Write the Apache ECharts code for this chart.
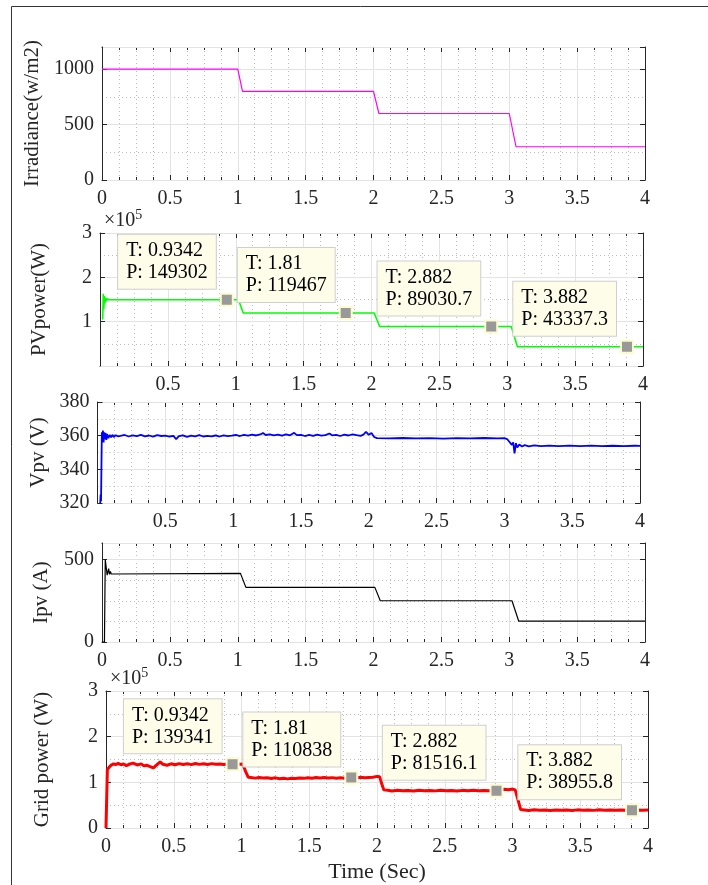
<!DOCTYPE html>
<html><head><meta charset="utf-8">
<script src="https://cdn.jsdelivr.net/npm/echarts@6/dist/echarts.min.js"></script>
<style>html,body{margin:0;padding:0;background:#fff}#c{width:708px;height:885px}</style>
</head><body><div id="c"></div>
<script>
// ---------- DATA (time in s) ----------
const irradiancePoints = [[0,1000],[1.0,1000],[1.035,800],[2.0,800],[2.04,600],[3.0,600],[3.05,300],[4.0,300]];

const pvPowerPoints = [[0.020,105000],[0.024,163000],[0.028,128000],[0.032,158000],[0.036,141000],[0.040,154000],
  [0.045,146000],[0.050,151500],[0.056,148000],[0.065,149800],[0.080,149302],[1.020,149302],[1.055,119467],
  [2.020,119467],[2.060,89031],[3.030,89031],[3.075,43337],[4.0,43337]];

const vpvPoints = [[0.020,320],[0.023,325],[0.026,321],[0.029,320],[0.032,362],[0.036,357],[0.040,363],[0.045,356],
  [0.050,362],[0.055,358],[0.060,361.5],[0.065,357.5],[0.070,361],[0.080,358.5],[0.090,360.5],[0.100,359],
  [0.110,360.5],[0.120,359.2],[0.135,360.3],[0.150,359.6],
  [0.17,359.9],[0.20,360.4],[0.23,359.5],[0.26,360.2],[0.29,359.7],[0.32,360.5],[0.35,359.6],[0.38,360.1],
  [0.41,359.4],[0.44,360.3],[0.47,359.8],[0.50,360.0],[0.53,359.5],[0.56,359.9],[0.58,357.9],[0.60,359.7],
  [0.63,360.2],[0.66,359.3],[0.69,360.0],[0.72,359.6],[0.75,360.3],[0.78,359.5],[0.81,359.9],[0.84,359.6],
  [0.87,360.1],[0.90,359.5],[0.93,360.2],[0.96,359.7],[0.99,360.0],[1.02,360.4],[1.05,359.8],[1.08,360.5],
  [1.11,360.0],[1.14,360.6],[1.17,360.1],[1.20,360.7],[1.22,361.6],[1.24,360.4],[1.27,360.8],[1.30,360.2],
  [1.33,360.6],[1.36,360.0],[1.39,360.7],[1.42,360.2],[1.45,361.7],[1.47,360.3],[1.50,360.5],[1.53,359.8],
  [1.56,360.4],[1.59,359.9],[1.62,360.6],[1.65,360.0],[1.68,360.3],[1.71,361.3],[1.73,360.2],[1.76,360.5],
  [1.79,359.8],[1.82,360.6],[1.85,360.1],[1.88,360.8],[1.91,360.3],[1.94,359.9],[1.96,360.6],[1.98,362.3],
  [2.00,360.5],[2.02,361.6],[2.04,359.2],
  [2.06,358.5],[2.15,358.4],[2.25,358.6],[2.35,358.4],[2.45,358.5],[2.55,358.3],[2.65,358.5],[2.75,358.4],
  [2.85,358.6],[2.95,358.4],[3.00,358.5],
  [3.02,358.0],[3.035,356.5],[3.045,357.5],[3.055,354.5],[3.065,356],[3.075,349.5],[3.085,355.5],[3.095,353],
  [3.11,354.8],[3.13,353.6],[3.15,354.4],[3.18,353.7],[3.22,354.2],[3.27,353.8],[3.33,354.1],[3.40,353.8],
  [3.48,354.1],[3.56,353.8],[3.64,354.1],[3.72,353.8],[3.80,354.0],[3.88,353.8],[3.96,354.0],[4.0,353.9]];

const ipvPoints = [[0,0],[0.018,0],[0.024,500],[0.032,500],[0.038,405],[0.042,395],[0.049,445],[0.055,410],
  [0.062,428],[0.068,412],[0.075,416],[1.02,416],[1.06,331],[2.01,331],[2.05,250],[3.02,250],[3.07,126],[4.0,126]];

const gridPowerPoints = [[0,0],[0.008,0],[0.010,128000],[0.015,131000],[0.025,134000],[0.04,138000],[0.055,140500],
  [0.07,139000],[0.09,141500],[0.11,138500],[0.13,140000],[0.15,136500],[0.17,139500],[0.20,142000],[0.23,138000],
  [0.26,140500],[0.28,136000],[0.30,137500],[0.33,134000],[0.35,131500],[0.37,137000],[0.40,145000],[0.42,139500],
  [0.45,137500],[0.48,140500],[0.51,138500],[0.54,141000],[0.57,139000],[0.60,140500],[0.63,138800],[0.66,141200],
  [0.69,139300],[0.72,140600],[0.75,138900],[0.78,141000],[0.81,139500],[0.84,140300],[0.87,139000],[0.90,140200],
  [0.93,139341],[0.96,140800],[0.99,139600],[1.01,140000],[1.03,124000],[1.05,111000],
  [1.07,110500],[1.10,109200],[1.13,110800],[1.16,109500],[1.19,110000],[1.22,108600],[1.25,109800],[1.28,107800],
  [1.31,108800],[1.34,107600],[1.37,109000],[1.40,108200],[1.43,109600],[1.46,108700],[1.49,110200],[1.52,109000],
  [1.55,110500],[1.58,109400],[1.61,110800],[1.64,109700],[1.67,110300],[1.70,108900],[1.73,110100],[1.76,109200],
  [1.79,110838],[1.82,110500],[1.85,109600],[1.88,110900],[1.91,110000],[1.94,110700],[1.97,111300],[2.00,113000],
  [2.02,112000],[2.035,97000],[2.05,83500],
  [2.08,82500],[2.11,81200],[2.15,82800],[2.19,81500],[2.23,82300],[2.27,81000],[2.31,82600],[2.35,81700],
  [2.39,82200],[2.43,81300],[2.47,82700],[2.51,81600],[2.55,82100],[2.59,81000],[2.63,82400],[2.67,81500],
  [2.71,82800],[2.75,81700],[2.79,82300],[2.83,81400],[2.87,81516],[2.91,83000],[2.94,84800],[2.97,84000],
  [3.00,85200],[3.02,83500],[3.04,62000],[3.06,40500],
  [3.09,39500],[3.12,38500],[3.16,39800],[3.20,38700],[3.24,39300],[3.28,38400],[3.32,39600],[3.36,38800],
  [3.40,39200],[3.44,38500],[3.48,39700],[3.52,38900],[3.56,39400],[3.60,38600],[3.64,39900],[3.68,39100],
  [3.72,39400],[3.76,38700],[3.80,39500],[3.84,38900],[3.88,38956],[3.92,39400],[3.96,38800],[4.0,39300]];

const pvTipTime = [0.9342, 1.81, 2.882, 3.882];
const pvTipPower = [149302, 119467, 89030.7, 43337.3];
const gridTipTime = [0.9342, 1.81, 2.882, 3.882];
const gridTipPower = [139341, 110838, 81516.1, 38955.8];

const xTickStep = 0.5;
// ---------- LAYOUT / STYLE ----------
const FONT = 'Liberation Serif';
const INK = '#262626';
const measureCtx = document.createElement('canvas').getContext('2d');
function textWidth(str, size) { measureCtx.font = size + 'px "' + FONT + '"'; return measureCtx.measureText(str).width; }

const panels = [
  {left:102, top:47, width:543, height:133, yMin:0, yMax:1200, yStep:500, yMinor:250, name:'Irradiance(w/m2)', gap:52,
   hideX0:false, hideY0:false, scale:1, color:'#ff00ff', lw:1.2, data:irradiancePoints},
  {left:100, top:233, width:543, height:133, yMin:0, yMax:300000, yStep:100000, yMinor:50000, name:'PVpower(W)', gap:50,
   hideX0:true, hideY0:true, scale:1e5, color:'#00ff00', lw:1.6, data:pvPowerPoints, tipT:pvTipTime, tipP:pvTipPower},
  {left:97.5, top:402, width:542.5, height:101, yMin:320, yMax:380, yStep:20, yMinor:10, name:'Vpv (V)', gap:48,
   hideX0:true, hideY0:false, scale:1, color:'#0000ff', lw:1.8, data:vpvPoints},
  {left:102, top:543, width:543, height:99, yMin:0, yMax:600, yStep:500, yMinor:125, name:'Ipv (A)', gap:50,
   hideX0:false, hideY0:false, scale:1, color:'#000000', lw:1.2, data:ipvPoints},
  {left:106, top:691, width:542, height:137, yMin:0, yMax:300000, yStep:100000, yMinor:50000, name:'Grid power (W)', gap:53,
   hideX0:false, hideY0:false, scale:1e5, color:'#ff0000', lw:3, data:gridPowerPoints, tipT:gridTipTime, tipP:gridTipPower,
   xName:'Time (Sec)'}
];

const TIP_FS = 20, TIP_PADX = 8, TIP_GAP = 4;
const grids = [], xAxes = [], yAxes = [], series = [];
panels.forEach((p, i) => {
  grids.push({left:p.left, top:p.top, width:p.width, height:p.height, containLabel:false});
  const lineStyle = {color: INK, width: 1};
  xAxes.push({
    type:'value', gridIndex:i, min:0, max:4, interval:xTickStep, position:'bottom',
    axisLine:{show:true, onZero:false, lineStyle},
    axisTick:{show:true, inside:true, length:5, lineStyle},
    minorTick:{show:true, splitNumber:4, length:3, lineStyle},
    axisLabel:{show:true, margin:9, fontFamily:FONT, fontSize:20, color:INK, showMinLabel:!p.hideX0,
               formatter: v => String(v)},
    splitLine:{show:true, lineStyle:{color:'#e3e3e3', width:1, type:'solid'}},
    minorSplitLine:{show:true, lineStyle:{color:'#bdbdbd', width:1, type:[1,3]}},
    name: p.xName || '', nameLocation:'middle', nameGap:33,
    nameTextStyle:{fontFamily:FONT, fontSize:22, color:INK}
  });
  xAxes.push({
    type:'value', gridIndex:i, min:0, max:4, interval:xTickStep, position:'top',
    axisLine:{show:true, onZero:false, lineStyle},
    axisTick:{show:true, inside:true, length:5, lineStyle},
    minorTick:{show:true, splitNumber:4, length:3, lineStyle},
    axisLabel:{show:false}, splitLine:{show:false}
  });
  yAxes.push({
    type:'value', gridIndex:i, min:p.yMin, max:p.yMax, interval:p.yMinor, position:'right', z:0,
    axisLine:{show:false}, axisTick:{show:false}, axisLabel:{show:false},
    splitLine:{show:true, lineStyle:{color:'#bdbdbd', width:1, type:[1,3]}}
  });
  yAxes.push({
    type:'value', gridIndex:i, min:p.yMin, max:p.yMax, interval:p.yStep, position:'left', z:1,
    axisLine:{show:true, onZero:false, lineStyle},
    axisTick:{show:true, inside:true, length:5, lineStyle},
    axisLabel:{show:true, margin:8, fontFamily:FONT, fontSize:20, color:INK,
               showMinLabel:!p.hideY0, showMaxLabel:(p.yMax - p.yMin) % p.yStep === 0,
               formatter: v => String(Math.round(v / p.scale * 1000) / 1000)},
    splitLine:{show:true, lineStyle:{color:'#e3e3e3', width:1, type:'solid'}},
    name:p.name, nameLocation:'middle', nameGap:p.gap,
    nameTextStyle:{fontFamily:FONT, fontSize:21, color:INK}
  });
  yAxes.push({
    type:'value', gridIndex:i, min:p.yMin, max:p.yMax, interval:p.yStep, position:'right', z:1,
    axisLine:{show:true, onZero:false, lineStyle},
    axisTick:{show:true, inside:true, length:5, lineStyle},
    axisLabel:{show:false}, splitLine:{show:false}
  });
  const s = {
    type:'line', xAxisIndex:2*i, yAxisIndex:3*i+1, data:p.data, showSymbol:false, symbol:'none',
    lineStyle:{color:p.color, width:p.lw}, itemStyle:{color:p.color}, animation:false, z:3
  };
  if (p.tipT) {
    s.markPoint = {
      symbol:'rect', symbolSize:12, animation:false,
      itemStyle:{color:'#999999', borderColor:'#fbfbd0', borderWidth:2},
      data: p.tipT.map((t, k) => {
        const l1 = 'T: ' + t, l2 = 'P: ' + p.tipP[k];
        const w = Math.max(textWidth(l1, TIP_FS), textWidth(l2, TIP_FS)) + 2 * TIP_PADX;
        return {
          coord:[t, p.tipP[k]],
          label:{show:true, position:[-(w + TIP_GAP), -TIP_GAP], align:'left', verticalAlign:'bottom',
                 fontFamily:FONT, fontSize:TIP_FS, lineHeight:22, color:'#000',
                 backgroundColor:'#fdfdea', borderColor:'#cfcfcf', borderWidth:1, padding:[5,TIP_PADX,5,TIP_PADX],
                 formatter: l1 + '\n' + l2}
        };
      })
    };
  }
  series.push(s);
});

const graphics = [
  {type:'rect', shape:{x:11.5, y:6.5, width:800, height:900}, style:{fill:'none', stroke:'#333', lineWidth:1}, silent:true}
];
const x10w = textWidth('×10', 20);
[panels[1], panels[4]].forEach(p => {
  graphics.push({type:'text', x:p.left + 4, y:p.top - 2, style:{text:'×10', fontFamily:FONT, fontSize:20, fill:INK,
    textAlign:'left', textVerticalAlign:'bottom'}});
  graphics.push({type:'text', x:p.left + 4 + x10w, y:p.top - 11, style:{text:'5', fontFamily:FONT, fontSize:14, fill:INK,
    textAlign:'left', textVerticalAlign:'bottom'}});
});

const chart = echarts.init(document.getElementById('c'), null, {renderer:'canvas'});
chart.setOption({
  animation:false, backgroundColor:'#ffffff',
  textStyle:{fontFamily:FONT},
  grid:grids, xAxis:xAxes, yAxis:yAxes, series:series, graphic:graphics
});
</script></body></html>
